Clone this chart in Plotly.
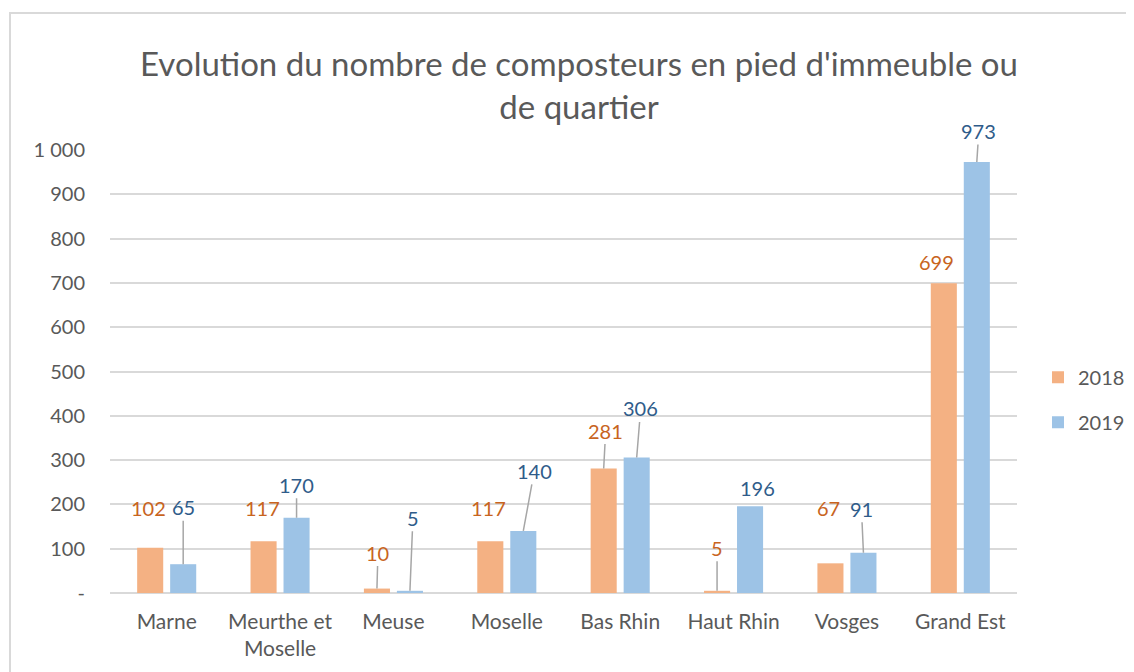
import plotly.graph_objects as go

# --- données ---
categories = ["Marne", "Meurthe et<br>Moselle", "Meuse", "Moselle",
              "Bas Rhin", "Haut Rhin", "Vosges", "Grand Est"]
valeurs_2018 = [102, 117, 10, 117, 281, 5, 67, 699]
valeurs_2019 = [65, 170, 5, 140, 306, 196, 91, 973]

y_ticks = [0, 100, 200, 300, 400, 500, 600, 700, 800, 900, 1000]
y_ticktext = ["-", "100", "200", "300", "400", "500", "600", "700", "800", "900", "1 000"]

# décalage des étiquettes (px) comme dans Excel, et trait de rappel oui/non
dec_2018 = [(-2, -40, False), (-1, -33, False), (1, -36, True), (-2, -33, False),
            (2, -38, True), (0, -43, True), (-2, -55, False), (-7, -21, False)]
dec_2019 = [(0, -57, True), (0, -33, True), (3, -73, True), (11, -60, True),
            (4, -49, True), (7, -18, False), (-2, -44, True), (2, -31, True)]

ORANGE = "#F4B183"
BLEU = "#9DC3E6"
TXT_ORANGE = "#C8641E"
TXT_BLEU = "#2F5C8A"
GRIS = "#595959"
FONT = "Lato, 'Open Sans', sans-serif"

# la page ajoute une marge de 8 px autour de la figure
W, H = 1126, 664

fig = go.Figure()
fig.add_trace(go.Bar(x=categories, y=valeurs_2018, name="2018",
                     marker=dict(color=ORANGE, line=dict(width=0)), legendgroup="a"))
fig.add_trace(go.Bar(x=categories, y=valeurs_2019, name="2019",
                     marker=dict(color=BLEU, line=dict(width=0)), legendgroup="b"))

annotations = []
for serie, decs, couleur, shift in [(valeurs_2018, dec_2018, TXT_ORANGE, -16.5),
                                    (valeurs_2019, dec_2019, TXT_BLEU, 16.5)]:
    for cat, v, (ax, ay, trait) in zip(categories, serie, decs):
        annotations.append(dict(
            x=cat, y=v, xref="x", yref="y", xshift=shift,
            text=str(v), showarrow=True, ax=ax, ay=ay,
            arrowhead=0, arrowwidth=1.5, standoff=0,
            arrowcolor="#A6A6A6" if trait else "rgba(0,0,0,0)",
            font=dict(family=FONT, size=20, color=couleur),
        ))

fig.update_layout(
    width=W, height=H,
    paper_bgcolor="white", plot_bgcolor="white",
    margin=dict(l=102, r=117, t=142, b=79, autoexpand=False),
    font=dict(family=FONT, color=GRIS),
    title=dict(text="Evolution du nombre de composteurs en pied d'immeuble ou<br>de quartier",
               x=571 / W, xanchor="center", xref="container",
               y=1 - 68 / H, yanchor="middle", yref="container",
               font=dict(family=FONT, size=33, color=GRIS)),
    barmode="group", bargap=0.418, bargroupgap=0.21,
    showlegend=True,
    legend=dict(x=(1038 - 110) / 907, y=0.436, xanchor="left", yanchor="middle",
                font=dict(family=FONT, size=20, color=GRIS),
                traceorder="grouped", tracegroupgap=16, itemwidth=30,
                bgcolor="rgba(0,0,0,0)"),
    annotations=annotations,
    shapes=[dict(type="rect", xref="paper", yref="paper",
                 x0=(10 - 110) / 907, x1=(1150 - 110) / 907,
                 y0=(593 - 690) / 443, y1=(593 - 13) / 443,
                 line=dict(color="#D9D9D9", width=2), layer="below")],
)

fig.update_yaxes(range=[0, 1000], tickvals=y_ticks, ticktext=y_ticktext,
                 showgrid=True, gridcolor="#D9D9D9", gridwidth=1.5,
                 zeroline=True, zerolinecolor="#D9D9D9", zerolinewidth=1.5,
                 showline=False, ticks="", ticklabelstandoff=24,
                 tickfont=dict(family=FONT, size=20, color=GRIS))
fig.update_xaxes(showline=False, ticks="", showgrid=False, ticklabelstandoff=14,
                 tickfont=dict(family=FONT, size=21, color=GRIS))

fig.write_html("out.html")
